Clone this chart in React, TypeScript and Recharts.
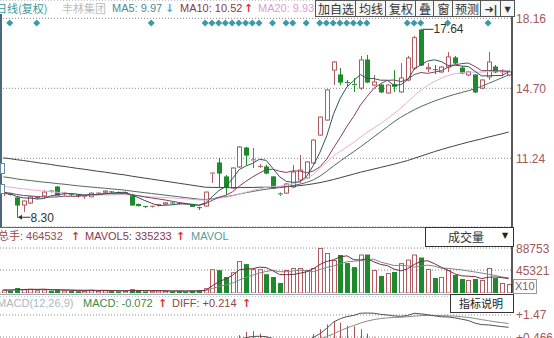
import React from 'react';
import { ComposedChart, Bar, Line, XAxis, YAxis, CartesianGrid, Cell } from 'recharts';

// ---------- categories ----------
const days = Array.from({ length: 76 }, (_, i) => `D${i + 1}`);

// ---------- price series ----------
const openP = [
  9.52, 9.46, 9.28, 8.93, 9.03, 9.28, 9.38, 9.62, 9.82, 9.50,
  9.44, 9.40, 9.36, 9.34, 9.50, 9.56, 9.58, 9.55, 9.53, 9.42,
  8.96, 8.86, 8.84, 8.92, 8.98, 9.03, 9.01, 8.99, 8.95, 8.80,
  8.88, 10.50, 11.01, 10.32, 9.77, 10.81, 11.75, 11.12, 10.80, 10.81,
  10.32, 9.48, 9.52, 9.82, 10.17, 10.27, 11.01, 12.39, 13.13, 15.60,
  15.36, 14.98, 14.88, 14.71, 16.10, 14.86, 14.86, 14.47, 14.88, 14.52,
  15.11, 15.70, 17.58, 15.66, 15.62, 15.51, 15.75, 16.20, 15.70, 15.36,
  15.36, 14.71, 15.26, 15.75, 15.47, 15.36,
];
const highP = [
  9.60, 9.52, 9.36, 9.15, 9.38, 9.33, 9.67, 9.65, 9.87, 9.58,
  9.48, 9.45, 9.38, 9.55, 9.55, 9.66, 9.62, 9.60, 9.60, 9.46,
  9.00, 8.88, 8.90, 8.98, 9.06, 9.06, 9.04, 9.02, 8.98, 8.85,
  9.60, 10.52, 11.26, 10.41, 10.80, 11.85, 11.80, 11.75, 10.95, 10.92,
  10.36, 9.55, 10.02, 10.91, 11.40, 11.10, 12.20, 13.30, 14.65, 16.05,
  15.70, 15.11, 15.21, 16.30, 16.35, 15.36, 14.92, 14.90, 15.60, 15.95,
  16.30, 17.30, 17.64, 15.95, 15.85, 15.80, 16.49, 16.30, 15.80, 15.55,
  15.40, 15.15, 16.49, 15.85, 15.65, 15.60,
];
const lowP = [
  9.36, 9.40, 8.30, 8.59, 8.98, 9.20, 9.28, 9.55, 9.40, 9.40,
  9.38, 9.30, 9.24, 9.32, 9.45, 9.54, 9.52, 9.50, 9.48, 8.90,
  8.86, 8.78, 8.80, 8.86, 8.95, 8.98, 8.96, 8.93, 8.84, 8.68,
  8.84, 10.02, 9.82, 9.42, 9.72, 10.76, 10.91, 10.76, 10.76, 10.45,
  9.72, 9.38, 9.48, 9.78, 10.02, 10.22, 10.95, 12.35, 13.10, 14.86,
  14.86, 14.76, 14.52, 14.62, 14.96, 14.80, 14.47, 14.42, 14.52, 14.47,
  15.05, 15.60, 15.80, 15.50, 15.40, 15.46, 15.51, 15.90, 15.40, 15.30,
  14.47, 14.66, 15.11, 15.46, 15.30, 15.30,
];
const closeP = [
  9.54, 9.44, 8.93, 9.13, 9.33, 9.30, 9.57, 9.58, 9.42, 9.52,
  9.42, 9.38, 9.37, 9.52, 9.52, 9.62, 9.56, 9.54, 9.55, 8.93,
  8.90, 8.83, 8.87, 8.96, 9.04, 9.01, 9.00, 8.96, 8.86, 8.78,
  9.57, 10.51, 10.51, 9.82, 10.76, 11.80, 11.40, 11.16, 10.84, 10.51,
  9.77, 9.44, 9.97, 10.56, 10.66, 11.06, 12.14, 13.28, 14.62, 16.00,
  15.01, 14.94, 14.84, 16.10, 15.01, 15.01, 14.52, 14.86, 14.80, 15.21,
  16.20, 17.20, 15.85, 15.72, 15.60, 15.75, 16.25, 15.95, 15.46, 15.51,
  14.52, 15.11, 16.00, 15.51, 15.51, 15.51,
];

// ---------- moving averages ----------
const ma5 = [
  9.50, 9.48, 9.35, 9.28, 9.27, 9.23, 9.25, 9.38, 9.44, 9.48,
  9.50, 9.46, 9.42, 9.44, 9.44, 9.48, 9.52, 9.55, 9.56, 9.44,
  9.30, 9.15, 9.02, 8.90, 8.92, 8.94, 8.98, 8.99, 8.97, 8.92,
  9.03, 9.34, 9.65, 9.84, 10.23, 10.68, 10.86, 10.99, 11.19, 11.14,
  10.74, 10.33, 10.10, 10.05, 10.08, 10.34, 10.88, 11.54, 12.35, 13.42,
  14.21, 14.77, 15.08, 15.38, 15.18, 15.18, 15.10, 15.10, 14.84, 14.88,
  15.12, 15.66, 15.86, 16.05, 16.11, 16.02, 15.83, 15.85, 15.80, 15.78,
  15.54, 15.31, 15.32, 15.33, 15.33, 15.52,
];
const ma10 = [
  9.55, 9.52, 9.45, 9.40, 9.38, 9.35, 9.33, 9.32, 9.33, 9.37,
  9.36, 9.36, 9.40, 9.44, 9.46, 9.49, 9.49, 9.49, 9.50, 9.44,
  9.39, 9.33, 9.28, 9.23, 9.18, 9.12, 9.06, 9.01, 8.94, 8.92,
  8.99, 9.16, 9.32, 9.41, 9.58, 9.86, 10.10, 10.32, 10.51, 10.68,
  10.70, 10.60, 10.54, 10.62, 10.61, 10.53, 10.61, 10.82, 11.20, 11.75,
  12.27, 12.82, 13.31, 13.87, 14.30, 14.70, 14.93, 15.09, 15.11, 15.03,
  15.15, 15.38, 15.48, 15.44, 15.50, 15.57, 15.74, 15.85, 15.92, 15.95,
  15.78, 15.57, 15.58, 15.57, 15.56, 15.53,
];
const ma20 = [
  9.85, 9.82, 9.77, 9.73, 9.69, 9.65, 9.62, 9.59, 9.56, 9.53,
  9.50, 9.47, 9.45, 9.44, 9.43, 9.43, 9.43, 9.44, 9.45, 9.42,
  9.39, 9.36, 9.33, 9.31, 9.30, 9.28, 9.26, 9.24, 9.21, 9.18,
  9.17, 9.22, 9.27, 9.31, 9.38, 9.47, 9.56, 9.65, 9.73, 9.80,
  9.85, 9.86, 9.90, 9.98, 10.08, 10.22, 10.45, 10.75, 11.05, 11.35,
  11.58, 11.80, 12.02, 12.28, 12.52, 12.74, 12.96, 13.20, 13.45, 13.72,
  14.02, 14.34, 14.60, 14.85, 15.04, 15.20, 15.33, 15.42, 15.47, 15.50,
  15.50, 15.50, 15.53, 15.55, 15.56, 15.57,
];
const ma30 = [
  10.32, 10.28, 10.22, 10.18, 10.14, 10.10, 10.06, 10.03, 9.99, 9.96,
  9.92, 9.88, 9.85, 9.82, 9.79, 9.76, 9.73, 9.70, 9.67, 9.62,
  9.58, 9.54, 9.50, 9.46, 9.42, 9.38, 9.34, 9.30, 9.26, 9.22,
  9.20, 9.24, 9.30, 9.34, 9.40, 9.47, 9.54, 9.60, 9.66, 9.71,
  9.76, 9.79, 9.83, 9.89, 9.96, 10.05, 10.17, 10.36, 10.60, 10.86,
  11.10, 11.34, 11.57, 11.80, 12.05, 12.30, 12.55, 12.80, 13.05, 13.27,
  13.46, 13.64, 13.80, 13.94, 14.07, 14.19, 14.30, 14.40, 14.49, 14.58,
  14.68, 14.80, 14.94, 15.08, 15.22, 15.36,
];
const ma60 = [
  11.26, 11.22, 11.17, 11.13, 11.08, 11.03, 10.98, 10.94, 10.88, 10.84,
  10.79, 10.74, 10.70, 10.65, 10.60, 10.56, 10.51, 10.46, 10.42, 10.36,
  10.31, 10.26, 10.21, 10.16, 10.11, 10.06, 10.01, 9.96, 9.91, 9.86,
  9.81, 9.80, 9.80, 9.79, 9.79, 9.80, 9.80, 9.80, 9.81, 9.81,
  9.82, 9.82, 9.84, 9.86, 9.89, 9.93, 9.98, 10.04, 10.11, 10.19,
  10.28, 10.37, 10.46, 10.55, 10.63, 10.71, 10.79, 10.87, 10.95, 11.04,
  11.13, 11.24, 11.35, 11.46, 11.57, 11.67, 11.77, 11.86, 11.95, 12.04,
  12.12, 12.20, 12.29, 12.37, 12.45, 12.54,
];

// ---------- volume ----------
const volume = [
  6200, 4800, 9800, 7600, 8200, 5400, 7000, 4600, 6800, 5000,
  3800, 3400, 4200, 6400, 4400, 5600, 3600, 3200, 4000, 7400,
  5200, 3000, 3600, 4800, 4200, 3200, 3800, 3000, 4600, 5800,
  9500, 47000, 45000, 31500, 41000, 63000, 57000, 47000, 47000, 37000,
  31500, 19700, 45400, 49300, 49300, 45400, 49300, 88800, 79000, 65000,
  75000, 59000, 51000, 76000, 76000, 45400, 33500, 39400, 41400, 59000,
  66000, 76000, 70000, 47400, 29600, 31600, 45400, 35500, 27600, 25700,
  27600, 25700, 49300, 29600, 19700, 17800,
];
const mavol5 = [
  6000, 5800, 6600, 7000, 7300, 7200, 7600, 6600, 6400, 5800,
  5400, 4700, 4800, 4700, 4600, 4800, 4800, 4600, 4200, 4800,
  4700, 4600, 4600, 4800, 4200, 3800, 3900, 3800, 3900, 4100,
  5340, 13980, 22380, 27760, 34800, 45500, 47500, 47900, 51000, 50200,
  43900, 36440, 36120, 36580, 39040, 41820, 47740, 56420, 62360, 65500,
  71420, 73360, 65800, 65200, 67400, 61480, 56380, 54060, 47140, 43740,
  47860, 56360, 62480, 63680, 57800, 50920, 44800, 37900, 33940, 33160,
  32360, 28420, 31180, 31580, 30380, 28420,
];
const mavol10 = [
  5800, 5900, 6100, 6300, 6500, 6600, 6700, 6500, 6500, 6400,
  6200, 6000, 5700, 5800, 5400, 5400, 5000, 4900, 4900, 5100,
  5200, 4800, 4700, 4700, 4700, 4400, 4400, 4200, 4300, 4200,
  4700, 8800, 12900, 15700, 19400, 25500, 30800, 35200, 39400, 42500,
  44700, 42000, 42000, 43700, 45000, 43700, 42000, 46500, 50800, 53500,
  57700, 61600, 62700, 63800, 66500, 66500, 61000, 57800, 54300, 54600,
  53800, 51300, 53200, 55000, 53000, 49000, 48700, 47100, 45700, 43400,
  41500, 39300, 37100, 34700, 31400, 29900,
];

// ---------- MACD ----------
const diff = [
  -0.10, -0.11, -0.15, -0.17, -0.17, -0.17, -0.15, -0.13, -0.12, -0.11,
  -0.10, -0.10, -0.09, -0.08, -0.07, -0.05, -0.04, -0.03, -0.02, -0.06,
  -0.10, -0.13, -0.15, -0.16, -0.16, -0.16, -0.16, -0.16, -0.17, -0.18,
  -0.12, 0.00, 0.10, 0.13, 0.22, 0.36, 0.44, 0.49, 0.50, 0.48,
  0.40, 0.30, 0.26, 0.27, 0.28, 0.32, 0.44, 0.62, 0.86, 1.15,
  1.30, 1.40, 1.45, 1.55, 1.56, 1.55, 1.50, 1.47, 1.43, 1.41,
  1.45, 1.55, 1.52, 1.48, 1.43, 1.39, 1.38, 1.34, 1.28, 1.22,
  1.10, 1.03, 1.02, 0.98, 0.94, 0.91,
];
const dea = [
  -0.08, -0.08, -0.09, -0.10, -0.11, -0.12, -0.13, -0.13, -0.13, -0.12,
  -0.12, -0.12, -0.11, -0.11, -0.10, -0.09, -0.08, -0.07, -0.06, -0.06,
  -0.07, -0.08, -0.09, -0.10, -0.11, -0.12, -0.13, -0.13, -0.14, -0.14,
  -0.14, -0.11, -0.07, -0.03, 0.02, 0.09, 0.16, 0.22, 0.28, 0.32,
  0.34, 0.33, 0.32, 0.31, 0.30, 0.31, 0.33, 0.39, 0.48, 0.61,
  0.75, 0.88, 0.99, 1.10, 1.19, 1.26, 1.31, 1.34, 1.36, 1.37,
  1.39, 1.42, 1.44, 1.45, 1.45, 1.44, 1.43, 1.42, 1.39, 1.36,
  1.31, 1.26, 1.21, 1.16, 1.12, 1.08,
];
const macd = [
  -0.04, -0.05, -0.08, -0.08, -0.06, -0.05, -0.02, 0.01, 0.02, 0.02,
  0.02, 0.01, 0.01, 0.02, 0.03, 0.05, 0.06, 0.06, 0.06, 0.00,
  -0.06, -0.10, -0.12, -0.12, -0.10, -0.08, -0.07, -0.06, -0.06, -0.07,
  0.04, 0.22, 0.34, 0.32, 0.40, 0.55, 0.70, 0.73, 0.62, 0.45,
  0.12, -0.06, -0.12, -0.08, 0.10, 0.30, 0.60, 0.82, 1.04, 1.17,
  1.12, 0.98, 0.95, 0.82, 0.62, 0.45, 0.30, 0.24, 0.14, 0.08,
  0.12, 0.26, 0.16, 0.06, -0.04, -0.10, -0.10, -0.16, -0.22, -0.28,
  -0.42, -0.46, -0.38, -0.36, -0.36, -0.34,
];

// info-marker days (diamonds in the top row)
const eventDays = [1, 5, 22, 30, 31, 32, 33, 34, 35, 36, 37, 38, 40, 42, 43, 45, 47, 48, 49, 50, 51, 52, 53, 54, 60, 61, 62, 66, 72];

// ---------- axis ticks ----------
const priceTicks = [11.24, 14.7, 18.16];
const volTicks = [45321, 88753];
const macdTicks = [0.466, 1.47];

const rows = days.map((day, i) => ({
  day,
  idx: i,
  open: openP[i],
  high: highP[i],
  low: lowP[i],
  close: closeP[i],
  ma5: ma5[i],
  ma10: ma10[i],
  ma20: ma20[i],
  ma30: ma30[i],
  ma60: ma60[i],
  vol: volume[i],
  mavol5: mavol5[i],
  mavol10: mavol10[i],
  diff: diff[i],
  dea: dea[i],
  macd: macd[i],
  evt: eventDays.includes(i) ? 1 : 0,
}));

const maxIdx = highP.indexOf(Math.max(...highP));
const minIdx = lowP.indexOf(Math.min(...lowP));

const FONT = '"Liberation Sans", Arial, "Noto Sans CJK SC", sans-serif';
const CJK = '"Noto Sans CJK SC", "Liberation Sans", sans-serif';
const UP = '#b05a60';
const DOWN = '#1d8a2c';
const AXIS_TXT = '#a0585a';

const Candle = (p: any) => {
  const { x, y, width, height, payload } = p;
  if (!payload) return null;
  const { open, close, high, low, idx } = payload;
  const top = Math.min(y, y + height);
  const h = Math.abs(height);
  const pv = (v: number) => (high === low ? top : top + ((high - v) / (high - low)) * h);
  const cx = Math.round(x + width / 2) + 0.5;
  const up = close >= open;
  const col = up ? UP : DOWN;
  const yo = pv(open);
  const yc = pv(close);
  const bt = Math.min(yo, yc);
  const bb = Math.max(yo, yc);
  const yh = top;
  const yl = top + h;
  return (
    <g>
      <line x1={cx} x2={cx} y1={yh} y2={bt} stroke={col} strokeWidth={1} />
      <line x1={cx} x2={cx} y1={bb} y2={yl} stroke={col} strokeWidth={1} />
      {bb - bt < 1.2 ? (
        <line x1={cx - 2.5} x2={cx + 2.5} y1={bt} y2={bt} stroke={col} strokeWidth={1} />
      ) : (
        <rect x={cx - 2} y={bt} width={4} height={bb - bt} fill={up ? '#ffffff' : DOWN} stroke={col} strokeWidth={1} />
      )}
      {idx === maxIdx && (
        <g>
          <line x1={cx + 1} x2={cx + 12} y1={yh + 0.5} y2={yh + 0.5} stroke="#333" strokeWidth={1} />
          <text x={cx + 12} y={yh + 4.5} fontSize={12} fontFamily={FONT} fill="#333">{high.toFixed(2)}</text>
        </g>
      )}
      {idx === minIdx && (
        <g>
          <line x1={cx + 1} x2={cx + 13} y1={yl - 0.5} y2={yl - 0.5} stroke="#333" strokeWidth={1} />
          <path d={`M${cx + 0.5},${yl - 0.5}L${cx + 4.5},${yl - 3}L${cx + 4.5},${yl + 2}Z`} fill="#333" />
          <text x={cx + 13} y={yl + 4} fontSize={12} fontFamily={FONT} fill="#333">{low.toFixed(2)}</text>
        </g>
      )}
    </g>
  );
};

const VolBar = (p: any) => {
  const { x, y, width, height, payload } = p;
  if (!payload || !height) return null;
  const up = payload.close >= payload.open;
  const cx = Math.round(x + width / 2) + 0.5;
  return (
    <rect x={cx - 2} y={y + 0.5} width={4} height={Math.max(height - 0.5, 0.5)} fill={up ? '#ffffff' : DOWN} stroke={up ? UP : DOWN} strokeWidth={1} />
  );
};

const Diamond = (p: any) => {
  const { x, y, width, height, payload } = p;
  if (!payload || !payload.evt) return null;
  const cx = x + width / 2;
  const cy = y + height / 2;
  const r = 3.5;
  return <path d={`M${cx},${cy - r}L${cx + r},${cy}L${cx},${cy + r}L${cx - r},${cy}Z`} fill="#3a9aaa" />;
};

const MacdStick = (p: any) => {
  const { x, y, width, height, payload } = p;
  if (!payload) return null;
  const cx = Math.round(x + width / 2) + 0.5;
  const t = Math.min(y, y + height);
  const h = Math.abs(height);
  return <line x1={cx} x2={cx} y1={t} y2={t + h} stroke={payload.macd >= 0 ? '#b05050' : '#2a8a3a'} strokeWidth={1} />;
};

const mkTick = (fmt: (v: number) => string) => (p: any) => (
  <text x={p.x} y={p.y} dy={4.5} textAnchor="start" fontSize={12} fontFamily={FONT} fill={AXIS_TXT}>
    {fmt(p.payload.value)}
  </text>
);
const PriceTick = mkTick((v) => v.toFixed(2));
const VolTick = mkTick((v) => String(v));
const MacdTick = mkTick((v) => '+' + v);

const Txt = ({ x, y, color, size = 11, font = FONT, weight = 400, children }: any) => (
  <div
    style={{
      position: 'absolute',
      left: x,
      top: y - (size + 2) / 2,
      color,
      fontSize: size,
      fontFamily: font,
      fontWeight: weight,
      lineHeight: `${size + 2}px`,
      whiteSpace: 'nowrap',
    }}
  >
    {children}
  </div>
);

const Btn = ({ x, w, children, size = 12 }: any) => (
  <div
    style={{
      position: 'absolute',
      left: x,
      top: 0,
      width: w - 1,
      height: 15,
      border: '1px solid #555',
      background: '#f7f7f7',
      color: '#333',
      fontSize: size,
      fontFamily: CJK,
      lineHeight: '15px',
      textAlign: 'center',
      whiteSpace: 'nowrap',
      overflow: 'hidden',
    }}
  >
    {children}
  </div>
);

const lineProps = { type: 'linear' as const, dot: false, isAnimationActive: false, strokeWidth: 1, activeDot: false };

export default function App() {
  return (
    <div style={{ position: 'absolute', left: 0, top: 0, width: 554, height: 338, overflow: 'hidden', background: '#fff' }}>
      {/* price panel */}
      <div style={{ position: 'absolute', left: 0, top: 0 }}>
        <ComposedChart width={554} height={227} data={rows} margin={{ top: 0, right: 0, bottom: 0, left: 0 }}>
          <XAxis dataKey="day" hide />
          <YAxis
            orientation="right"
            width={42}
            domain={[7.844, 19.065]}
            allowDataOverflow
            ticks={priceTicks}
            interval={0}
            tickLine={false}
            tickSize={4}
            tickMargin={0}
            axisLine={{ stroke: '#222', strokeWidth: 1.5 }}
            tick={PriceTick}
          />
          <CartesianGrid vertical={false} strokeDasharray="1 2" stroke="#888" />
          <Bar dataKey={(d: any) => [d.low, d.high]} barSize={5} shape={Candle} isAnimationActive={false} />
          <Line dataKey="ma60" stroke="#3e4444" {...lineProps} />
          <Line dataKey="ma30" stroke="#4f6a5e" {...lineProps} />
          <Line dataKey="ma20" stroke="#e2b0dc" {...lineProps} />
          <Line dataKey="ma10" stroke="#8a3a60" {...lineProps} />
          <Line dataKey="ma5" stroke="#2f5656" {...lineProps} />
        </ComposedChart>
      </div>

      {/* info diamonds row */}
      <div style={{ position: 'absolute', left: 0, top: 19 }}>
        <ComposedChart width={554} height={8} data={rows} margin={{ top: 0, right: 42, bottom: 0, left: 0 }}>
          <XAxis dataKey="day" hide />
          <YAxis hide domain={[0, 1]} />
          <Bar dataKey="evt" barSize={7} shape={Diamond} isAnimationActive={false} />
        </ComposedChart>
      </div>

      {/* volume panel */}
      <div style={{ position: 'absolute', left: 0, top: 227 }}>
        <ComposedChart width={554} height={66} data={rows} margin={{ top: 0, right: 0, bottom: 0, left: 0 }}>
          <XAxis dataKey="day" hide />
          <YAxis
            orientation="right"
            width={42}
            domain={[0, 130284]}
            allowDataOverflow
            ticks={volTicks}
            interval={0}
            tickLine={false}
            tickSize={4}
            tickMargin={0}
            axisLine={{ stroke: '#222', strokeWidth: 1.5 }}
            tick={VolTick}
          />
          <CartesianGrid vertical={false} strokeDasharray="1 2" stroke="#888" />
          <Bar dataKey="vol" barSize={5} shape={VolBar} isAnimationActive={false} />
          <Line dataKey="mavol10" stroke="#7a8a8a" {...lineProps} />
          <Line dataKey="mavol5" stroke="#7a2a3a" {...lineProps} />
        </ComposedChart>
      </div>

      {/* MACD panel */}
      <div style={{ position: 'absolute', left: 0, top: 296 }}>
        <ComposedChart width={554} height={60} data={rows} margin={{ top: 0, right: 0, bottom: 0, left: 0 }}>
          <XAxis dataKey="day" hide />
          <YAxis
            orientation="right"
            width={42}
            domain={[-0.401, 2.337]}
            allowDataOverflow
            ticks={macdTicks}
            interval={0}
            tickLine={false}
            tickSize={4}
            tickMargin={0}
            axisLine={false}
            tick={MacdTick}
          />
          <CartesianGrid vertical={false} strokeDasharray="1 2" stroke="#888" />
          <Bar dataKey="macd" barSize={1} shape={MacdStick} isAnimationActive={false} />
          <Line dataKey="dea" stroke="#8a8a8a" {...lineProps} />
          <Line dataKey="diff" stroke="#505050" {...lineProps} />
        </ComposedChart>
      </div>

      {/* separators & borders */}
      <div style={{ position: 'absolute', left: 0, top: 14, width: 1.5, height: 213, background: '#4d6680' }} />
      <div style={{ position: 'absolute', left: 0, top: 163, width: 3, height: 9, border: '1px solid #6a8aa0', background: '#fff' }} />
      <div style={{ position: 'absolute', left: 0, top: 184, width: 3, height: 8, border: '1px solid #6a8aa0', background: '#fff' }} />
      <div style={{ position: 'absolute', left: 0, top: 227, width: 512, height: 1, background: '#666' }} />
      <div style={{ position: 'absolute', left: 0, top: 294, width: 450, height: 1, background: '#9aaab4' }} />

      {/* top header */}
      <Txt x={-4} y={8} color="#3a9a98" font={CJK}>日线(复权)</Txt>
      <Txt x={62} y={8} color="#bdbdbd" font={CJK}>丰林集团</Txt>
      <Txt x={112} y={8} color="#4a8a98">MA5: 9.97</Txt>
      <Txt x={165} y={8} color="#4ab0d8" font="DejaVu Sans" weight={700}>↓</Txt>
      <Txt x={180} y={8} color="#8a3848">MA10: 10.52</Txt>
      <Txt x={244} y={8} color="#e03030" font="DejaVu Sans" weight={700}>↑</Txt>
      <Txt x={258} y={8} color="#d8a0d0">MA20: 9.93</Txt>

      <Btn x={315} w={41}>加自选</Btn>
      <Btn x={355} w={31}>均线</Btn>
      <Btn x={385} w={31}>复权</Btn>
      <Btn x={415} w={19}>叠</Btn>
      <Btn x={433} w={20}>窗</Btn>
      <Btn x={452} w={29}>预测</Btn>
      <Btn x={480} w={21} size={11}><span style={{ fontFamily: 'DejaVu Sans', fontWeight: 700 }}>➜|</span></Btn>
      <Btn x={500} w={14} size={8}><span style={{ fontFamily: 'DejaVu Sans' }}>▼</span></Btn>

      {/* volume header */}
      <Txt x={-2} y={236} color="#9a4848" font={FONT}>总手: 464532</Txt>
      <Txt x={71} y={236} color="#e03030" font="DejaVu Sans" weight={700}>↑</Txt>
      <Txt x={85} y={236} color="#8a3848">MAVOL5: 335233</Txt>
      <Txt x={176} y={236} color="#e03030" font="DejaVu Sans" weight={700}>↑</Txt>
      <Txt x={191} y={236} color="#5a9a9a">MAVOL</Txt>

      <div style={{ position: 'absolute', left: 425, top: 227, width: 87, height: 18, border: '1px solid #333', background: '#fff' }} />
      <Txt x={448} y={237} color="#333" size={12} font={CJK}>成交量</Txt>
      <Txt x={502} y={236} color="#222" size={8} font="DejaVu Sans">▼</Txt>

      <div style={{ position: 'absolute', left: 513, top: 279, width: 22, height: 13, border: '1px solid #999', background: '#fff' }} />
      <Txt x={515} y={286} color="#8a5858" size={11}>X10</Txt>

      {/* MACD header */}
      <Txt x={-3} y={303} color="#a8b8c4">MACD(12,26,9)</Txt>
      <Txt x={83} y={303} color="#3a8a48">MACD: -0.072</Txt>
      <Txt x={158} y={303} color="#e03030" font="DejaVu Sans" weight={700}>↑</Txt>
      <Txt x={172} y={303} color="#8a4848">DIFF: +0.214</Txt>
      <Txt x={242} y={303} color="#e03030" font="DejaVu Sans" weight={700}>↑</Txt>

      <div style={{ position: 'absolute', left: 450, top: 294, width: 62, height: 17, border: '1px solid #333', background: '#fff' }} />
      <Txt x={459} y={303} color="#222" size={11} font={CJK}>指标说明</Txt>
    </div>
  );
}
